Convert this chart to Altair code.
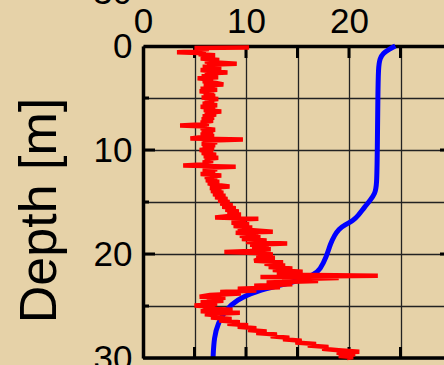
import altair as alt
import pandas as pd

# Red profile (depth [m], value)
red_depth = [0.15, 0.2, 0.3, 0.4, 0.5, 0.6, 0.7, 0.8, 0.9, 1.0, 1.1, 1.2, 1.35, 1.5, 1.6, 1.7, 1.8, 1.9, 2.0, 2.15,
             2.3, 2.45, 2.55, 2.65, 2.8, 2.9, 3.0, 3.1, 3.25, 3.4, 3.55, 3.7, 3.8, 3.95, 4.1, 4.2, 4.35, 4.5, 4.65, 4.8,
             4.95, 5.1, 5.25, 5.4, 5.55, 5.7, 5.85, 6.0, 6.15, 6.3, 6.45, 6.6, 6.75, 6.9, 7.05, 7.2, 7.35, 7.5, 7.65, 7.75,
             7.9, 8.05, 8.2, 8.35, 8.5, 8.65, 8.8, 8.9, 9.0, 9.1, 9.25, 9.4, 9.55, 9.7, 9.85, 10.0, 10.15, 10.3, 10.45, 10.6,
             10.75, 10.9, 11.05, 11.2, 11.35, 11.5, 11.6, 11.7, 11.85, 12.0, 12.15, 12.3, 12.45, 12.6, 12.75, 12.9, 13.05, 13.2, 13.35, 13.5,
             13.65, 13.8, 13.95, 14.1, 14.25, 14.4, 14.55, 14.7, 14.85, 15.0, 15.15, 15.3, 15.45, 15.6, 15.75, 15.9, 16.05, 16.2, 16.35, 16.5,
             16.6, 16.7, 16.85, 17.0, 17.15, 17.3, 17.45, 17.6, 17.75, 17.85, 17.95, 18.1, 18.25, 18.4, 18.55, 18.7, 18.85, 19.0, 19.1, 19.25,
             19.4, 19.55, 19.7, 19.8, 19.9, 20.05, 20.2, 20.35, 20.5, 20.65, 20.8, 20.95, 21.1, 21.25, 21.4, 21.55, 21.7, 21.85, 22.0, 22.1,
             22.2, 22.3, 22.45, 22.6, 22.75, 22.9, 23.05, 23.2, 23.35, 23.5, 23.65, 23.8, 23.95, 24.1, 24.2, 24.35, 24.5, 24.65, 24.8, 24.95,
             25.1, 25.25, 25.35, 25.5, 25.65, 25.8, 25.95, 26.1, 26.25, 26.4, 26.55, 26.7, 26.85, 27.0, 27.15, 27.3, 27.45, 27.6, 27.75, 27.9,
             28.05, 28.2, 28.35, 28.5, 28.65, 28.8, 28.95, 29.1, 29.25, 29.4, 29.5, 29.65, 29.8, 29.9, 30.0]
red_value = [10.3, 5.0, 6.4, 5.2, 5.9, 3.3, 6.1, 5.4, 7.0, 5.7, 6.8, 5.6, 7.4, 6.0, 7.5, 9.1, 6.2, 7.2, 5.8, 7.6,
             5.6, 6.9, 8.2, 6.0, 7.0, 5.7, 7.3, 5.3, 6.8, 5.8, 7.1, 7.8, 5.9, 7.0, 5.6, 7.2, 5.5, 6.9, 5.9, 7.0,
             5.7, 7.3, 6.0, 6.9, 5.8, 7.2, 5.6, 7.0, 5.9, 7.6, 6.0, 7.1, 5.8, 6.9, 5.7, 6.8, 5.6, 6.4, 3.6, 6.2,
             5.6, 7.0, 5.7, 6.8, 5.6, 6.9, 5.4, 4.6, 9.7, 5.8, 7.2, 5.7, 7.0, 5.8, 6.9, 5.5, 6.8, 5.7, 7.1, 5.9,
             7.3, 6.0, 6.8, 5.8, 6.6, 3.9, 9.0, 6.0, 7.2, 5.8, 7.0, 5.6, 7.6, 6.0, 7.2, 6.1, 7.4, 6.3, 7.0, 8.4,
             6.5, 7.6, 6.6, 7.8, 6.8, 8.0, 7.0, 8.2, 7.3, 8.4, 7.5, 8.7, 7.7, 9.0, 8.0, 9.3, 8.2, 9.5, 8.4, 7.0,
             11.2, 8.7, 10.0, 8.6, 10.3, 8.8, 10.6, 9.2, 11.0, 12.6, 9.0, 11.2, 9.4, 11.4, 9.6, 12.0, 10.0, 14.0, 10.4, 12.2,
             10.6, 12.4, 10.4, 7.9, 11.0, 12.6, 11.0, 12.8, 11.2, 10.8, 13.6, 11.8, 13.8, 12.2, 14.5, 12.6, 15.5, 13.0, 14.5, 22.8,
             11.4, 19.0, 13.5, 17.0, 12.0, 14.5, 10.8, 13.3, 9.2, 11.0, 7.5, 9.5, 6.5, 5.5, 8.0, 6.2, 7.8, 5.6, 7.2, 5.0,
             7.0, 5.8, 8.7, 5.6, 9.4, 6.0, 7.8, 6.6, 8.6, 7.4, 9.4, 8.2, 10.2, 9.2, 11.0, 10.2, 12.0, 11.0, 13.0, 12.4,
             14.2, 13.6, 15.4, 14.8, 16.8, 16.0, 18.0, 17.4, 19.0, 21.0, 18.8, 20.6, 19.0, 20.4, 19.8]

# Blue profile (depth [m], value)
blue_depth = [0.0, 0.3, 0.7, 1.2, 2.0, 5.0, 10.0, 13.5, 14.2, 14.8, 15.5, 16.3, 16.8, 17.2, 17.6, 18.2, 19.0, 20.3,
              21.5, 22.0, 22.5, 23.0, 23.6, 24.4, 25.4, 26.6, 28.0, 30.0]
blue_value = [24.5, 23.9, 23.3, 23.0, 22.85, 22.8, 22.75, 22.7, 22.5, 22.1, 21.5, 20.9, 20.4, 19.6, 19.0, 18.6, 18.2, 17.8,
              17.2, 16.6, 15.3, 13.3, 10.9, 9.1, 8.0, 7.3, 6.9, 6.8]

x_ticks = [5, 10, 15, 20, 25]
y_minor = [5, 15, 25]
y_major = [10, 20]

FONT = "Liberation Sans"
W, H = 301, 312
XMAX = 301 / 10.3

red = pd.DataFrame({"depth": red_depth, "v": red_value, "i": range(len(red_depth))})
blue = pd.DataFrame({"depth": blue_depth, "v": blue_value, "i": range(len(blue_depth))})

xs = alt.Scale(domain=[0, XMAX], nice=False, zero=False)
ys = alt.Scale(domain=[0, 30], reverse=True, nice=False)

xaxis = alt.Axis(orient="top", values=[0, 5, 10, 15, 20, 25],
                 labelExpr="datum.value % 10 == 0 ? datum.label : ''",
                 labelFont=FONT, labelFontSize=35, labelColor="black", labelPadding=7,
                 labelFlush=False, labelOverlap=False,
                 ticks=False, domain=True, domainColor="black", domainWidth=3.5,
                 grid=True, gridColor="#222222", gridWidth=1.3, gridOpacity=1, title=None)
yaxis = alt.Axis(orient="left", values=[0, 5, 10, 15, 20, 25, 30],
                 labelExpr="datum.value % 10 == 0 ? datum.label : ''",
                 labelFont=FONT, labelFontSize=35, labelColor="black", labelPadding=11,
                 labelFlush=False, labelOverlap=False,
                 ticks=False, domain=True, domainColor="black", domainWidth=3.5,
                 grid=True, gridColor="#222222", gridWidth=1.3, gridOpacity=1,
                 title="Depth [m]", titleFont=FONT, titleFontSize=52, titleFontWeight="normal",
                 titleColor="black", titleAngle=270, titleX=-88, titleY=164,
                 titleAlign="center", titleBaseline="alphabetic")

base_blue = alt.Chart(blue).mark_line(color="#0000FF", strokeWidth=5, interpolate="basis").encode(
    x=alt.X("v:Q", scale=xs, axis=xaxis),
    y=alt.Y("depth:Q", scale=ys, axis=yaxis),
    order="i:Q",
)
red_line = alt.Chart(red).mark_line(color="#FF0000", strokeWidth=4.5).encode(
    x=alt.X("v:Q", scale=xs),
    y=alt.Y("depth:Q", scale=ys),
    order="i:Q",
)

xt = pd.DataFrame({"t": x_ticks})
top_ticks = alt.Chart(xt).mark_rule(color="black", strokeWidth=3).encode(
    x=alt.X("t:Q", scale=xs), y=alt.value(0), y2=alt.value(12))
bot_ticks = alt.Chart(xt).mark_rule(color="black", strokeWidth=3).encode(
    x=alt.X("t:Q", scale=xs), y=alt.value(H - 11), y2=alt.value(H))
left_minor = alt.Chart(pd.DataFrame({"t": y_minor})).mark_rule(color="black", strokeWidth=3).encode(
    y=alt.Y("t:Q", scale=ys), x=alt.value(0), x2=alt.value(6))
left_major = alt.Chart(pd.DataFrame({"t": y_major})).mark_rule(color="black", strokeWidth=3).encode(
    y=alt.Y("t:Q", scale=ys), x=alt.value(0), x2=alt.value(12))
right_major = alt.Chart(pd.DataFrame({"t": y_major})).mark_rule(color="black", strokeWidth=3).encode(
    y=alt.Y("t:Q", scale=ys), x=alt.value(W - 4), x2=alt.value(W))
bottom_frame = alt.Chart(pd.DataFrame({"t": [0]})).mark_rule(color="black", strokeWidth=3.5).encode(
    y=alt.value(H), x=alt.value(0), x2=alt.value(W))
upper_label = alt.Chart(pd.DataFrame({"s": ["30"]})).mark_text(
    font=FONT, fontSize=35, color="black", align="right", baseline="alphabetic").encode(
    text="s:N", x=alt.value(-11), y=alt.value(-42))

chart = alt.layer(
    base_blue, top_ticks, bot_ticks, left_minor, left_major, right_major, bottom_frame, red_line, upper_label
).properties(
    width=W, height=H,
    autosize=alt.AutoSizeParams(type="none"),
    padding={"left": 143, "top": 46, "right": 0, "bottom": 7},
    background="#E6D2A8",
).configure_view(stroke=None, clip=False)

chart.save("out.html", embed_options={"renderer": "svg", "actions": False})
